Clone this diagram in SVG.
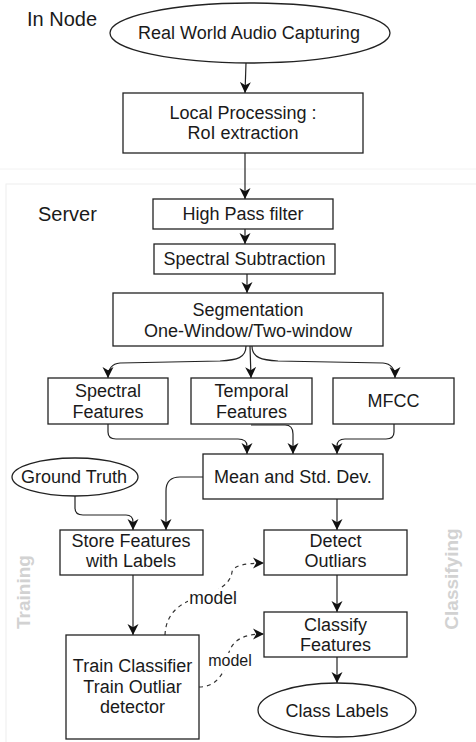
<svg xmlns="http://www.w3.org/2000/svg" width="476" height="742" viewBox="0 0 476 742">
<style>
text{font-family:"Liberation Sans",Arial,sans-serif;fill:#1a1a1a}
.n{font-size:18px;text-anchor:middle}
.t{font-size:20px}
.s{fill:#fff;stroke:#222;stroke-width:1.3}
.c{fill:none;stroke:#222;stroke-width:1.2}
.d{fill:none;stroke:#333;stroke-width:1.2;stroke-dasharray:4 4}
.g{font-size:19px;font-weight:bold;fill:#d2d2d2;text-anchor:middle}
.m{text-anchor:middle}
</style>
<defs>
<marker id="a" markerUnits="userSpaceOnUse" markerWidth="13" markerHeight="13" refX="11" refY="5.5" orient="auto" viewBox="0 0 13 11">
<path d="M0,0 L11,5.5 L0,11 L3.3,5.5 Z" fill="#111"/>
</marker>
</defs>
<rect width="476" height="742" fill="#fff"/>
<g id="regions">
<line x1="0" y1="169" x2="476" y2="169" stroke="#f2f2f2" stroke-width="1"/>
<rect x="6" y="184" width="480" height="600" fill="none" stroke="#eeeeee" stroke-width="1"/>
<text class="t" x="27" y="26">In Node</text>
<text class="t" x="38" y="221">Server</text>
<text class="g" transform="translate(30,592) rotate(-90)">Training</text>
<text class="g" transform="translate(458,579) rotate(-90)">Classifying</text>
</g>
<g id="connectors">
<path class="c" marker-end="url(#a)" d="M246,63 L245,93"/>
<path class="c" marker-end="url(#a)" d="M245,153 L245,199"/>
<path class="c" marker-end="url(#a)" d="M245,229 L245,244"/>
<path class="c" marker-end="url(#a)" d="M247,274 L247,293"/>
<path class="c" marker-end="url(#a)" d="M246,346 C246,358 237,360 220,361 L120,363 Q108,364 108,378"/>
<path class="c" marker-end="url(#a)" d="M250,346 L251,378"/>
<path class="c" marker-end="url(#a)" d="M252,346 C252,358 262,360 278,361 L383,363 Q395,364 395,378"/>
<path class="c" marker-end="url(#a)" d="M108,424 L108,432 Q108,439 116,439 L238,439 Q247,439 247,446 L247,454"/>
<path class="c" marker-end="url(#a)" d="M251,425 L285,425 Q293,425 293,434 L293,454"/>
<path class="c" marker-end="url(#a)" d="M394,424 L394,432 Q394,439 386,439 L345,439 Q337,439 337,446 L337,454"/>
<path class="c" marker-end="url(#a)" d="M337,499 L337,530"/>
<path class="c" marker-end="url(#a)" d="M75,496 L75,508 Q75,515 83,515 L126,515 Q133,515 133,522 L133,530"/>
<path class="c" marker-end="url(#a)" d="M203,477 L180,477 Q166,477 166,491 L166,530"/>
<path class="c" marker-end="url(#a)" d="M133,575 L133,635"/>
<path class="c" marker-end="url(#a)" d="M337,575 L337,612"/>
<path class="c" marker-end="url(#a)" d="M337,657 L337,683"/>
<path class="d" marker-end="url(#a)" d="M165,635 Q166,606 200,597 Q230,588 232,572 Q234,563 264,563"/>
<path class="d" marker-end="url(#a)" d="M199,687 C215,687 224,675 227,660 C230,642 240,634 264,634"/>
<rect x="188" y="589" width="50" height="19" fill="#fff"/>
<text class="m" x="213" y="604" font-size="17.5">model</text>
<rect x="207" y="653" width="47" height="17" fill="#fff"/>
<text class="m" x="230" y="666" font-size="16">model</text>
</g>
<g id="n1"><ellipse class="s" cx="250" cy="33" rx="140" ry="30"/><text class="n" x="249" y="39">Real World Audio Capturing</text></g>
<g id="n2"><rect class="s" x="123" y="93" width="240" height="60"/><text class="n" x="243" y="119">Local Processing :</text><text class="n" x="243" y="139">RoI extraction</text></g>
<g id="n3"><rect class="s" x="153" y="199" width="180" height="30"/><text class="n" x="243" y="220">High Pass filter</text></g>
<g id="n4"><rect class="s" x="154" y="244" width="181" height="30"/><text class="n" x="244.5" y="265">Spectral Subtraction</text></g>
<g id="n5"><rect class="s" x="113" y="293" width="270" height="53"/><text class="n" x="248" y="316">Segmentation</text><text class="n" x="248" y="337">One-Window/Two-window</text></g>
<g id="n6"><rect class="s" x="48" y="378" width="120" height="46"/><text class="n" x="108" y="397">Spectral</text><text class="n" x="108" y="418">Features</text></g>
<g id="n7"><rect class="s" x="191" y="378" width="121" height="46"/><text class="n" x="251.5" y="397">Temporal</text><text class="n" x="251.5" y="418">Features</text></g>
<g id="n8"><rect class="s" x="333" y="378" width="121" height="46"/><text class="n" x="393.5" y="407">MFCC</text></g>
<g id="n9"><rect class="s" x="203" y="454" width="180" height="45"/><text class="n" x="293" y="483">Mean and Std. Dev.</text></g>
<g id="n10"><ellipse class="s" cx="75" cy="477" rx="63" ry="19"/><text class="n" x="74" y="483">Ground Truth</text></g>
<g id="n11"><rect class="s" x="60" y="530" width="143" height="45"/><text class="n" x="131" y="547">Store Features</text><text class="n" x="131" y="567">with Labels</text></g>
<g id="n12"><rect class="s" x="264" y="530" width="143" height="45"/><text class="n" x="335.5" y="547">Detect</text><text class="n" x="335.5" y="567">Outliars</text></g>
<g id="n13"><rect class="s" x="66" y="635" width="133" height="104"/><text class="n" x="132.5" y="672">Train Classifier</text><text class="n" x="132.5" y="693">Train Outliar</text><text class="n" x="132.5" y="713">detector</text></g>
<g id="n14"><rect class="s" x="264" y="612" width="143" height="45"/><text class="n" x="335.5" y="631">Classify</text><text class="n" x="335.5" y="651">Features</text></g>
<g id="n15"><ellipse class="s" cx="337" cy="710" rx="79" ry="27"/><text class="n" x="337" y="717">Class Labels</text></g>
</svg>
